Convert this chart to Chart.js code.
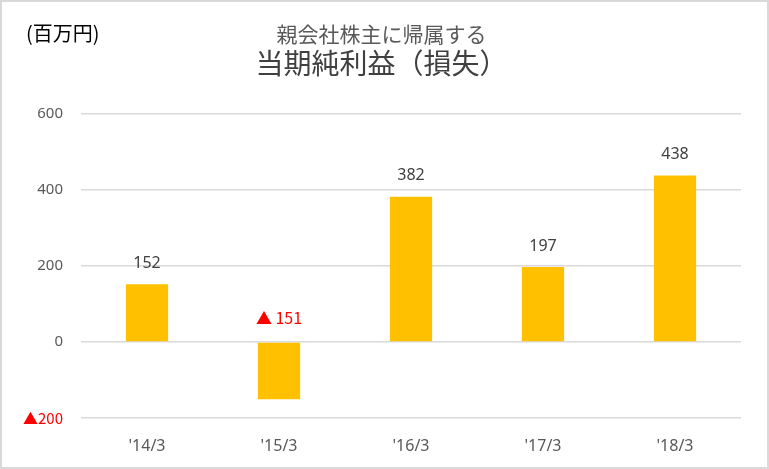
<!DOCTYPE html>
<html>
<head>
<meta charset="utf-8">
<script src="https://cdn.jsdelivr.net/npm/chart.js@4.4.1/dist/chart.umd.min.js"></script>
<style>
  html, body { margin: 0; padding: 0; background: #fff; }
  #wrap { width: 769px; height: 469px; }
</style>
</head>
<body>
<div id="wrap"><canvas id="profitChart"></canvas></div>
<script>
// Data
var categories = ["'14/3", "'15/3", "'16/3", "'17/3", "'18/3"];
var netIncome = [152, -151, 382, 197, 438];
var yTicks = [-200, 0, 200, 400, 600];

var numFont = '"Noto Sans", sans-serif';
var jpFont = '"Noto Sans CJK JP", sans-serif';

// format negative numbers the Japanese way
function fmt(v, gap) {
    return v < 0 ? '▲' + (gap ? ' ' : '') + Math.abs(v) : String(v);
}

// frame + unit label
var framePlugin = {
    id: 'frame',
    beforeDraw: function(chart) {
        var c = chart.ctx;
        c.save();
        c.fillStyle = '#fff';
        c.fillRect(0, 0, chart.width, chart.height);
        c.strokeStyle = '#d9d9d9';
        c.lineWidth = 2;
        c.strokeRect(1, 1, chart.width - 2, chart.height - 2);
        c.fillStyle = '#000';
        c.font = '20px ' + jpFont;
        c.textBaseline = 'middle';
        c.fillText('(百万円)', 26, 33);
        c.restore();
    }
};

// value labels over the bars
var labelPlugin = {
    id: 'valueLabels',
    afterDatasetsDraw: function(chart) {
        var c = chart.ctx;
        var zeroY = chart.scales.y.getPixelForValue(0);
        var meta = chart.getDatasetMeta(0);
        c.save();
        c.textAlign = 'center';
        c.textBaseline = 'middle';
        meta.data.forEach(function(bar, i) {
            var v = netIncome[i];
            if (v < 0) {
                c.font = '16px ' + jpFont;
                c.fillStyle = '#ff0000';
                c.fillText(fmt(v, true), bar.x, zeroY - 24);
            } else {
                c.font = '16px ' + numFont;
                c.fillStyle = '#404040';
                c.fillText(fmt(v), bar.x, bar.y - 21);
            }
        });
        c.restore();
    }
};

var ctx = document.getElementById('profitChart').getContext('2d');
var profitChart = new Chart(ctx, {
    type: 'bar',
    data: {
        labels: categories,
        datasets: [{
            data: netIncome,
            backgroundColor: '#ffc000',
            categoryPercentage: 1,
            barPercentage: 0.32
        }]
    },
    options: {
        responsive: true,
        maintainAspectRatio: false,
        animation: false,
        layout: {
            padding: { top: 0, right: 28, bottom: 0, left: 22 }
        },
        plugins: {
            legend: { display: false },
            tooltip: { enabled: false },
            title: {
                display: true,
                text: '親会社株主に帰属する',
                color: '#595959',
                font: { family: jpFont, size: 21, weight: 'normal', lineHeight: 1.2 },
                padding: { top: 21, bottom: 0 }
            },
            subtitle: {
                display: true,
                text: '当期純利益（損失）',
                color: '#404040',
                font: { family: jpFont, size: 28, weight: 'normal', lineHeight: 1.2 },
                padding: { top: 0, bottom: 34 }
            }
        },
        scales: {
            x: {
                grid: { display: false },
                border: { display: false },
                ticks: {
                    color: '#595959',
                    font: { family: numFont, size: 16 },
                    padding: 11
                },
                afterFit: function(scale) { scale.height = 51; }
            },
            y: {
                min: yTicks[0],
                max: yTicks[yTicks.length - 1],
                afterBuildTicks: function(scale) {
                    scale.ticks = yTicks.map(function(v) { return { value: v }; });
                },
                grid: { color: '#d9d9d9', lineWidth: 1.5, drawTicks: false },
                border: { display: false },
                ticks: {
                    padding: 18,
                    font: function(c) {
                        var neg = c.tick && c.tick.value < 0;
                        return { family: neg ? jpFont : numFont, size: 15 };
                    },
                    color: function(c) { return c.tick && c.tick.value < 0 ? '#ff0000' : '#595959'; },
                    callback: function(v) { return fmt(v); }
                },
                afterFit: function(scale) { scale.width = 59; }
            }
        }
    },
    plugins: [framePlugin, labelPlugin]
});
</script>
</body>
</html>
